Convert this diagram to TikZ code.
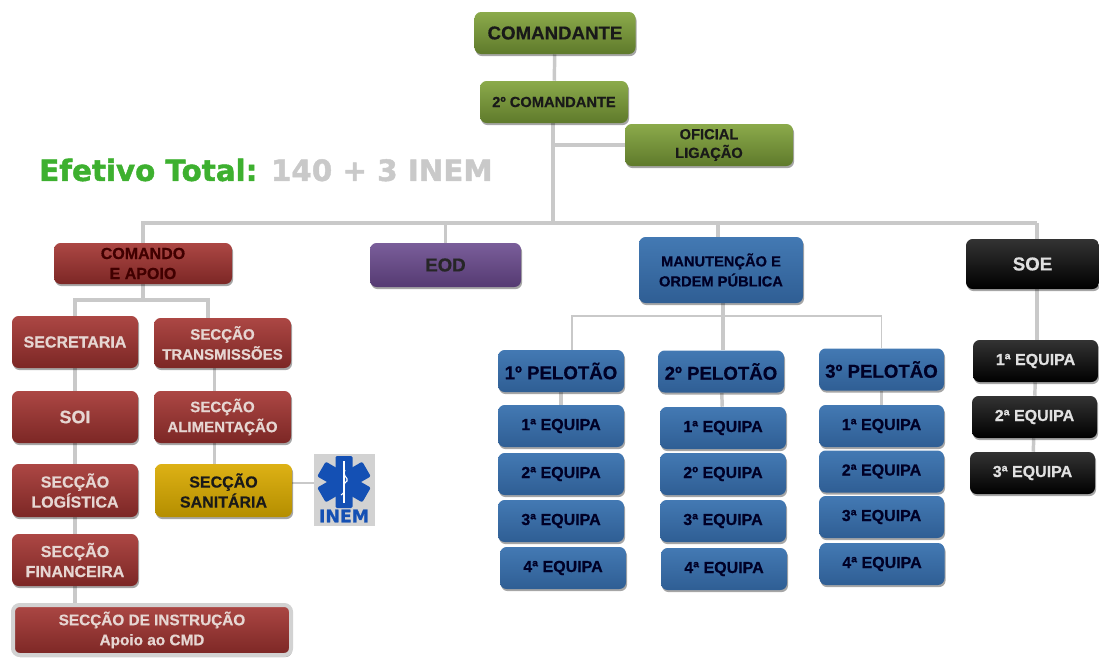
\documentclass[tikz,border=0pt]{standalone}
\usepackage{fontspec}
\setmainfont{Liberation Sans}[BoldFeatures={FakeBold=0.5}]
\newfontfamily\dejavubold{DejaVu Sans}[BoldFeatures={FakeBold=1.5}]
\usetikzlibrary{shapes.misc, shadows, positioning, calc}
\definecolor{linkgray}{HTML}{C9C9C9}
\definecolor{inemblue}{HTML}{1450B4}
\definecolor{effgreen}{HTML}{3DB02F}
\definecolor{redtext}{HTML}{E6D6D2}
\tikzset{
  box/.style={rectangle,rounded corners=5pt,align=center,inner sep=0pt,font=\bfseries\fontsize{12}{15}\selectfont,
    drop shadow={shadow xshift=.8pt,shadow yshift=-1.6pt,opacity=.35,fill=black}},
  size/.style 2 args={minimum width=#1*.75pt,minimum height=#2*.75pt},
  cmdbox/.style={box,draw=none,top color=cmdtop,bottom color=cmdbot,text=black!90},
  redbox/.style={box,draw=none,top color=redtop,bottom color=redbot,text=redtext},
  bluebox/.style={box,draw=none,top color=bluetop,bottom color=bluebot,text=black!85!blue},
  blackbox/.style={box,draw=none,top color=black!80,bottom color=black,text=white!88!black},
  equipa/.style={bluebox,size={126}{42}},
  soeequipa/.style={blackbox,size={125}{42}},
  pelotao/.style={bluebox,size={126}{42},font=\bfseries\fontsize{14}{16}\selectfont},
  link/.style={draw=linkgray,line width=2.6pt},
  linkthin/.style={draw=linkgray,line width=1.4pt},
  stararm/.style={rectangle,rounded corners=1pt,fill=inemblue,minimum width=17*.75pt,minimum height=52*.75pt,inner sep=0pt},
}
\definecolor{cmdtop}{HTML}{8BAA4B}
\definecolor{cmdbot}{HTML}{5F7A2B}
\definecolor{redtop}{HTML}{AC4744}
\definecolor{redbot}{HTML}{7C2725}
\definecolor{bluetop}{HTML}{4379B3}
\definecolor{bluebot}{HTML}{2F5E94}
\definecolor{purptop}{HTML}{7A5E9A}
\definecolor{purpbot}{HTML}{553A72}
\definecolor{yelltop}{HTML}{DDB115}
\definecolor{yellbot}{HTML}{B48E00}
\pgfdeclarelayer{back}
\pgfsetlayers{back,main}

\begin{document}
\begin{tikzpicture}[x=.75pt,y=-.75pt]
	\useasboundingbox (0,0) rectangle (1099,657);
	% top
	\node[cmdbox,size={161}{42},font=\bfseries\fontsize{14}{16}\selectfont] (cmd) at (555,33) {COMANDANTE};
	\node[cmdbox,size={148}{42},font=\bfseries\fontsize{11}{13}\selectfont] (cmd2) at (554,102) {2º COMANDANTE};
	\node[cmdbox,size={168}{42},font=\bfseries\fontsize{11}{14}\selectfont] (oficial) at (709,145) {OFICIAL\\LIGAÇÃO};
	\node[anchor=west,inner sep=0pt,font=\dejavubold\bfseries\fontsize{22}{24}\selectfont,text=effgreen] (efetivo) at (39,170) {Efetivo Total: \textcolor{linkgray}{140 + 3 INEM}};
	\coordinate (bus) at (553,223);
	\coordinate (soeline) at (1037,223);
	% second row
	\node[redbox,size={178}{41},text=black!75!red] (comando) at (143,263.5) {COMANDO\\E APOIO};
	\node[box,size={151}{44},draw=none,top color=purptop,bottom color=purpbot,text=black!85,font=\bfseries\fontsize{14}{16}\selectfont] (eod) at (445.5,265) {EOD};
	\node[bluebox,size={164}{66},font=\bfseries\fontsize{11}{15}\selectfont] (manut) at (721,270) {MANUTENÇÃO E\\ORDEM PÚBLICA};
	\node[blackbox,size={133}{50},font=\bfseries\fontsize{14}{16}\selectfont] (soe) at (1032.5,264) {SOE};
	% comando e apoio
	\coordinate (redbus) at (143,300);
	\node[redbox,size={126}{52}] (secretaria) at (75,342) {SECRETARIA};
	\node[redbox,size={126}{52},font=\bfseries\fontsize{13.5}{15}\selectfont] (soi) at (75,417) {SOI};
	\node[redbox,size={126}{53}] (logistica) at (75,490.5) {SECÇÃO\\LOGÍSTICA};
	\node[redbox,size={126}{52}] (financeira) at (75,560) {SECÇÃO\\FINANCEIRA};
	\node[redbox,size={278}{50},draw=gray!35,line width=3pt,font=\bfseries\fontsize{11.5}{15}\selectfont] (instrucao) at (152,630) {SECÇÃO DE INSTRUÇÃO\\Apoio ao CMD};
	\node[redbox,size={137}{50},font=\bfseries\fontsize{11.3}{15}\selectfont] (transm) at (222.5,343) {SECÇÃO\\TRANSMISSÕES};
	\node[redbox,size={137}{52},font=\bfseries\fontsize{11.3}{15}\selectfont] (aliment) at (222.5,417) {SECÇÃO\\ALIMENTAÇÃO};
	\node[box,size={137}{53},draw=none,top color=yelltop,bottom color=yellbot,text=black!90] (sanitaria) at (223.5,490.5) {SECÇÃO\\SANITÁRIA};
	% inem logo
	\node[rectangle,fill=gray!35,minimum width=61*.75pt,minimum height=72*.75pt,inner sep=0pt] (inem) at (344.5,490) {};
	\node[stararm] (arma) at (344,482) {};
	\node[stararm,rotate=60] (armb) at (344,482) {};
	\node[stararm,rotate=120] (armc) at (344,482) {};
	\draw[white,line width=1pt] (344,461) -- (344,503);
	\draw[white,line width=.8pt] (341,495) .. controls (348,491) and (340,486) .. (347,481) .. controls (349,478) and (341,475) .. (345,470);
	\node[inner sep=0pt,text=inemblue,font=\dejavubold\bfseries\fontsize{13}{15}\selectfont] (inemtxt) at (344,516) {INEM};
	% pelotoes
	\coordinate (bluebus) at (723,316);
	\node[pelotao] (pela) at (561,371) {1º PELOTÃO};
	\node[pelotao] (pelb) at (721,371.5) {2º PELOTÃO};
	\node[pelotao,size={125}{42}] (pelc) at (881.5,369.5) {3º PELOTÃO};
	\node[equipa] (aa) at (561,426) {1ª EQUIPA};
	\node[equipa] (ab) at (561,474) {2ª EQUIPA};
	\node[equipa] (ac) at (561,521) {3ª EQUIPA};
	\node[equipa] (ad) at (563,568) {4ª EQUIPA};
	\node[equipa] (ba) at (723,428) {1ª EQUIPA};
	\node[equipa] (bb) at (723,474) {2º EQUIPA};
	\node[equipa] (bc) at (723,521) {3ª EQUIPA};
	\node[equipa] (bd) at (724,569) {4ª EQUIPA};
	\node[equipa,size={125}{42}] (ca) at (881.5,426) {1ª EQUIPA};
	\node[equipa,size={125}{42}] (cb) at (881.5,471.5) {2ª EQUIPA};
	\node[equipa,size={125}{42}] (cc) at (881.5,517) {3ª EQUIPA};
	\node[equipa,size={125}{42}] (cd) at (882,564) {4ª EQUIPA};
	% soe
	\node[soeequipa] (sa) at (1035.5,361) {1ª EQUIPA};
	\node[soeequipa] (sb) at (1034.5,417) {2ª EQUIPA};
	\node[soeequipa] (sc) at (1032.5,473) {3ª EQUIPA};
	\begin{pgfonlayer}{back}
		\draw[link] (cmd) -- (cmd2);
		\draw[link] (cmd2.south -| bus) -- (bus);
		\draw[link] (oficial.west) -- (oficial.west -| bus);
		\draw[link] (comando.north) |- (bus);
		\draw[link] (bus) -| (eod.north);
		\draw[link] (bus) -| ([xshift=-3*.75pt]manut.north);
		\draw[link] (bus) -- (soeline);
		\draw[link] (soeline) -- (soeline |- sa.north);
		\draw[link] (comando) -- (redbus);
		\draw[link] (secretaria.north) |- (redbus);
		\draw[link] (redbus) -| ([xshift=-14.5*.75pt]transm.north);
		\draw[link] (secretaria) -- (soi);
		\draw[link] (soi) -- (logistica);
		\draw[link] (logistica) -- (financeira);
		\draw[link] (financeira.south) -- (financeira.south |- instrucao.north);
		\draw[link] ([xshift=-8*.75pt]transm.south) -- ([xshift=-8*.75pt]aliment.north);
		\draw[link] ([xshift=-8*.75pt]aliment.south) -- ([xshift=-8*.75pt]aliment.south |- sanitaria.north);
		\draw[linkthin] (sanitaria.east |- 0,483) -- (inem.west |- 0,483);
		\draw[link] (manut.south -| bluebus) -- (pelb.north -| bluebus);
		\draw[linkthin] (bluebus) -| ([xshift=11*.75pt]pela.north);
		\draw[linkthin] (bluebus) -| (pelc.north);
		\draw[link] (pela) -- (aa);
		\draw[link] (pelb) -- (ba);
		\draw[link] (pelc) -- (ca);
		\draw[link] (sa) -- (sb);
		\draw[link] (sb) -- (sc);
	\end{pgfonlayer}
\end{tikzpicture}
\end{document}
